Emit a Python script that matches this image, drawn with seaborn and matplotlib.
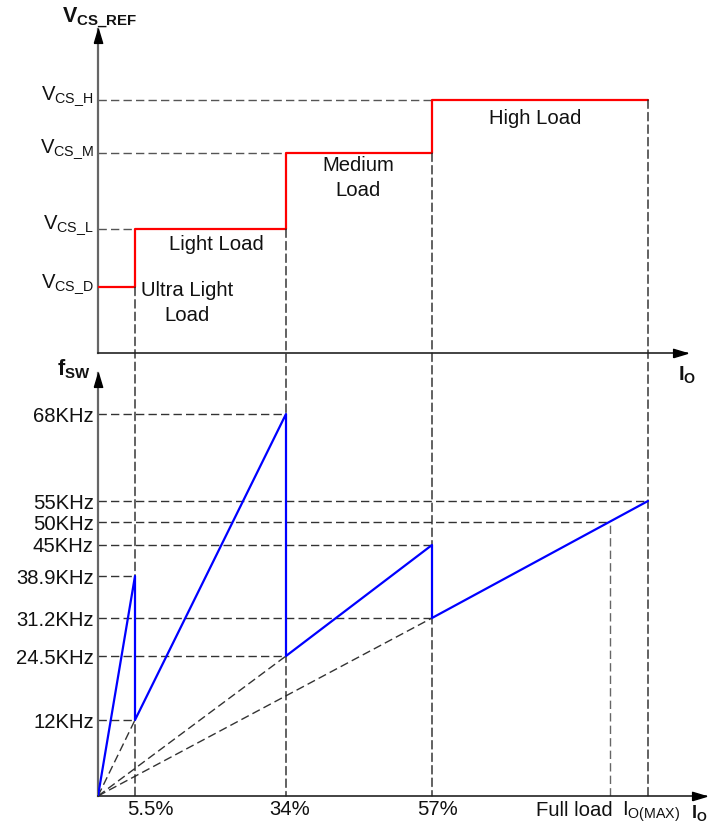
import numpy as np
import pandas as pd
import matplotlib
matplotlib.use("Agg")
import matplotlib.pyplot as plt
import seaborn as sns
from matplotlib.patches import ConnectionPatch

# ---------------- data ----------------
io_labels = ["5.5%", "34%", "57%"]
io_marks = [5.5, 34, 57]
io_full_load = 90
io_max = 100

vcs_labels = [r"$\mathrm{V}_{\mathrm{CS\_D}}$", r"$\mathrm{V}_{\mathrm{CS\_L}}$",
              r"$\mathrm{V}_{\mathrm{CS\_M}}$", r"$\mathrm{V}_{\mathrm{CS\_H}}$"]
vcs_levels = [0.26, 0.49, 0.79, 1.0]          # relative to V_CS_H
vcs_level_ends = [0, 5.5, 34, 57]             # where each level is reached
vcs_x = [0, 5.5, 5.5, 34, 34, 57, 57, 100]
vcs_y = [0.26, 0.26, 0.49, 0.49, 0.79, 0.79, 1.0, 1.0]

fsw_levels = [12, 24.5, 31.2, 38.9, 45, 50, 55, 68]
fsw_level_ends = [5.5, 34, 57, 5.5, 57, 90, 100, 34]
fsw_labels = [f"{v:g}KHz" for v in fsw_levels]
fsw_x = [0, 5.5, 5.5, 34, 34, 57, 57, 100]
fsw_y = [0, 38.9, 12, 68, 24.5, 45, 31.2, 55]

ray_x = [5.5, 34, 57]
ray_y = [12, 24.5, 31.2]

drop_x = [5.5, 34, 57, 100]
drop_top = [0.26, 0.49, 0.79, 1.0]

# --------------- schematic (non-linear) axis scales ---------------
x_scale_pct = [0, 5.5, 34, 57, 90, 100, 120]
x_scale_px = [0, 37, 188, 334, 512, 550, 626]
y_scale_khz = [0, 12, 24.5, 31.2, 38.9, 45, 50, 55, 68, 80]
y_scale_px = [0, 76, 140, 178, 220, 251, 274, 295, 382, 462]


def piecewise(xs, ys):
    xs = np.asarray(xs, float)
    ys = np.asarray(ys, float)

    def f(v):
        v = np.asarray(v, float)
        out = np.interp(v, xs, ys)
        lo_s = (ys[1] - ys[0]) / (xs[1] - xs[0])
        hi_s = (ys[-1] - ys[-2]) / (xs[-1] - xs[-2])
        out = np.where(v < xs[0], ys[0] + (v - xs[0]) * lo_s, out)
        out = np.where(v > xs[-1], ys[-1] + (v - xs[-1]) * hi_s, out)
        return out
    return f


x_fwd = piecewise(x_scale_pct, x_scale_px)
x_inv = piecewise(x_scale_px, x_scale_pct)
y_fwd = piecewise(y_scale_khz, y_scale_px)
y_inv = piecewise(y_scale_px, y_scale_khz)

# ---------------- style ----------------
sns.set_style("white")
plt.rcParams["font.family"] = ["Liberation Sans", "DejaVu Sans"]
plt.rcParams["mathtext.fontset"] = "custom"
plt.rcParams["mathtext.rm"] = "Liberation Sans"
plt.rcParams["mathtext.it"] = "Liberation Sans:italic"
plt.rcParams["mathtext.bf"] = "Liberation Sans:bold"

FS = 14.6
TXT = "#111111"

W, H = 708, 825
fig = plt.figure(figsize=(W / 100, H / 100), dpi=100)
fig.patch.set_facecolor("white")


def rect(x0, y_bottom, x1, y_top):
    return [x0 / W, 1 - y_bottom / H, (x1 - x0) / W, (y_bottom - y_top) / H]


ax_top = fig.add_axes(rect(98, 353, 687, 29))
ax_bot = fig.add_axes(rect(98, 796, 706, 373))

DASH = (0, (6, 3))
DCOL = "#333333"

for ax in (ax_top, ax_bot):
    ax.set_xscale("function", functions=(x_fwd, x_inv))
    for s in ("top", "right"):
        ax.spines[s].set_visible(False)
    ax.spines["left"].set_color("#666666")
    ax.spines["left"].set_linewidth(1.6)
    ax.spines["bottom"].set_color("#222222")
    ax.spines["bottom"].set_linewidth(1.2)
    ax.set_xticks([])
    ax.minorticks_off()
    ax.tick_params(axis="y", length=0, pad=3, labelsize=FS, labelcolor=TXT)
    ax.set_facecolor("none")
    # arrows
    up = [(-0.6, -2), (0.6, -2), (0, 0), (-0.6, -2)]
    right = [(-2, -0.6), (-2, 0.6), (0, 0), (-2, -0.6)]
    ax.plot([0], [1], marker=up, ms=20, color="black", transform=ax.transAxes,
            clip_on=False, zorder=6)
    ax.plot([1], [0], marker=right, ms=20, color="black", transform=ax.transAxes,
            clip_on=False, zorder=6)

# ---------------- top panel ----------------
ax_top.set_xlim(0, float(x_inv(589)))
ax_top.set_ylim(0, 324 / 253)
for lvl, xe in zip(vcs_levels, vcs_level_ends):
    if xe > 0:
        ax_top.plot([0, xe], [lvl, lvl], ls=DASH, lw=1, color="#555555", zorder=1)
df_vcs = pd.DataFrame({"Io": vcs_x, "Vcs": vcs_y})
sns.lineplot(data=df_vcs, x="Io", y="Vcs", sort=False, estimator=None,
             color="#ff0000", lw=1.6, ax=ax_top, zorder=4)
ax_top.set_yticks(vcs_levels, labels=vcs_labels)
for lab in ax_top.get_yticklabels():
    lab.set_verticalalignment("baseline")
ax_top.set_xticks([])
ax_top.set_xlabel("")
ax_top.set_ylabel("")

# ---------------- bottom panel ----------------
ax_bot.set_yscale("function", functions=(y_fwd, y_inv))
ax_bot.set_xlim(0, float(x_inv(608)))
ax_bot.set_ylim(0, float(y_inv(423)))
for lvl, xe in zip(fsw_levels, fsw_level_ends):
    ax_bot.plot([0, xe], [lvl, lvl], ls=DASH, lw=1, color=DCOL, zorder=1)
for rx, ry in zip(ray_x, ray_y):
    ax_bot.plot([0, rx], [0, ry], ls=DASH, lw=1, color=DCOL, zorder=1)
ax_bot.plot([io_full_load, io_full_load], [0, 50], ls=DASH, lw=1, color="#666666", zorder=1)
df_fsw = pd.DataFrame({"Io": fsw_x, "fsw": fsw_y})
sns.lineplot(data=df_fsw, x="Io", y="fsw", sort=False, estimator=None,
             color="#0000ff", lw=1.6, ax=ax_bot, zorder=4)
ax_bot.set_yticks(fsw_levels, labels=fsw_labels)
ax_bot.minorticks_off()
ax_bot.set_xticks([])
ax_bot.set_xlabel("")
ax_bot.set_ylabel("")

# vertical dashed drop lines spanning both panels
for dx, dt in zip(drop_x, drop_top):
    con = ConnectionPatch(xyA=(dx, dt), coordsA="data", axesA=ax_top,
                          xyB=(dx, 0), coordsB="data", axesB=ax_bot,
                          linestyle=DASH, lw=1, edgecolor="#222222", zorder=1)
    con.set_clip_on(False)
    ax_bot.add_artist(con)

# x labels (bottom)
io_dx = [15, 4, 5]
for lab, xm, ddx in zip(io_labels, io_marks, io_dx):
    ax_bot.annotate(lab, xy=(xm, 0), xycoords=("data", "axes fraction"),
                    xytext=(ddx, -19), textcoords="offset pixels",
                    ha="center", va="baseline", fontsize=FS, color=TXT)
ax_bot.annotate("Full load", xy=(io_full_load, 0), xycoords=("data", "axes fraction"),
                xytext=(3, -20), textcoords="offset pixels",
                ha="right", va="baseline", fontsize=FS, color=TXT)
ax_bot.annotate(r"$\mathrm{I}_{\mathrm{O(MAX)}}$", xy=(io_max, 0),
                xycoords=("data", "axes fraction"),
                xytext=(3, -20), textcoords="offset pixels",
                ha="center", va="baseline", fontsize=FS, color=TXT)


def P(x, y):
    return x / W, 1 - y / H


# axis titles
fig.text(*P(62, 23), r"$\mathbf{V}_{\mathbf{CS\_REF}}$", fontsize=15.5,
         ha="left", va="baseline", color=TXT)
fig.text(*P(57, 375), r"$\mathbf{f}_{\mathbf{SW}}$", fontsize=15.5,
         ha="left", va="baseline", color=TXT)
fig.text(*P(678, 381), r"$\mathbf{I}_{\mathbf{O}}$", fontsize=14.5,
         ha="left", va="baseline", color=TXT)
fig.text(*P(691, 818), r"$\mathbf{I}_{\mathbf{O}}$", fontsize=13,
         ha="left", va="baseline", color=TXT)

# region annotations
fig.text(*P(535, 119), "High Load", fontsize=FS, ha="center", va="center", color=TXT)
fig.text(*P(358, 178), "Medium\nLoad", fontsize=FS, ha="center", va="center",
         multialignment="center", linespacing=1.4, color=TXT)
fig.text(*P(216, 244), "Light Load", fontsize=FS, ha="center", va="center", color=TXT)
fig.text(*P(187, 303), "Ultra Light\nLoad", fontsize=FS, ha="center", va="center",
         multialignment="center", linespacing=1.35, color=TXT)

fig.savefig("out.png", dpi=100, facecolor="white")
